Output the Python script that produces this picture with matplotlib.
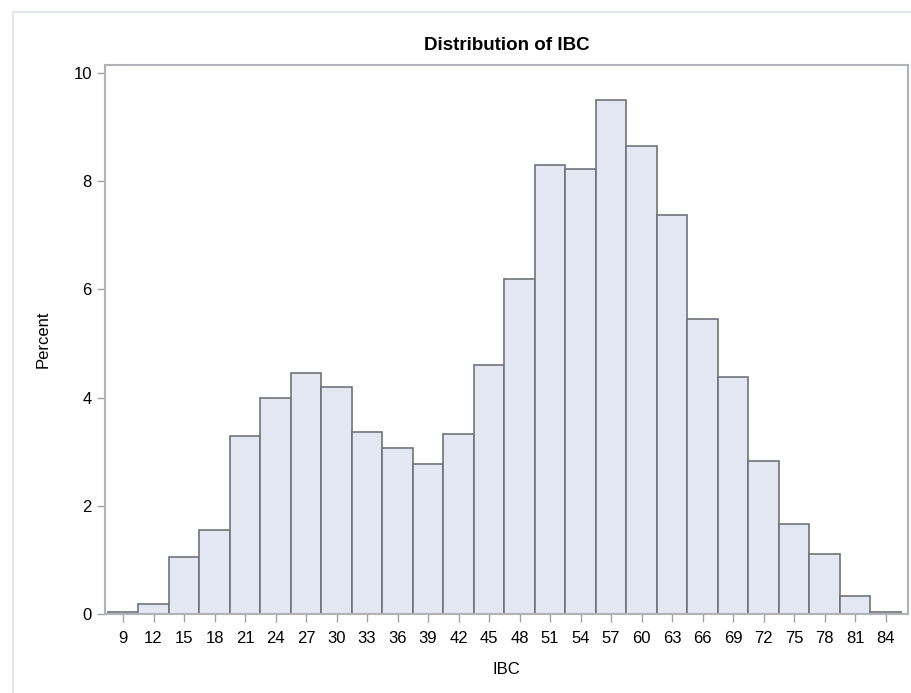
import matplotlib
matplotlib.use("Agg")
import matplotlib.pyplot as plt
from matplotlib.lines import Line2D

# histogram of IBC: bin midpoints (width 3) and percent per bin
bin_mids = [9, 12, 15, 18, 21, 24, 27, 30, 33, 36, 39, 42, 45,
            48, 51, 54, 57, 60, 63, 66, 69, 72, 75, 78, 81, 84]
percent = [0.03, 0.18, 1.06, 1.56, 3.30, 4.00, 4.46, 4.19, 3.36, 3.06, 2.77, 3.32, 4.60,
           6.19, 8.31, 8.22, 9.51, 8.66, 7.37, 5.45, 4.38, 2.83, 1.66, 1.11, 0.34, 0.04]
y_ticks = [0, 2, 4, 6, 8, 10]

plt.rcParams['font.family'] = ['Liberation Sans', 'DejaVu Sans']

fig = plt.figure(figsize=(9.12, 6.93), dpi=100)
# faint outer frame of the graph area (left and top edges only show)
fx, fy = 13 / 912, 1 - 12 / 693
fig.lines.append(Line2D([fx, fx], [0, fy], transform=fig.transFigure, color='#e3e6ee', lw=1.5))
fig.lines.append(Line2D([fx, 1], [fy, fy], transform=fig.transFigure, color='#e3e6ee', lw=1.5))

ax = fig.add_axes([105 / 912, 1 - 614 / 693, (908 - 105) / 912, (614 - 65) / 693])
ax.bar(bin_mids, percent, width=3, color='#e3e7f1', edgecolor='#6f7379', linewidth=1.2)

ax.set_xlim(7.23, 86.2)
ax.set_ylim(0, 10.15)
ax.set_xticks(bin_mids)
ax.set_yticks(y_ticks)

for s in ax.spines.values():
    s.set_color('#b0b3b8')
    s.set_linewidth(1.5)
ax.tick_params(axis='both', colors='#a0a3a8', labelcolor='black', labelsize=12,
               length=6, width=1)
ax.tick_params(axis='x', pad=6)

ax.set_title('Distribution of IBC', fontsize=13.5, fontweight='bold', pad=10.5)
ax.set_xlabel('IBC', fontsize=12, labelpad=12)
ax.set_ylabel('Percent', fontsize=12, labelpad=16)

fig.savefig('out.png', dpi=100)
